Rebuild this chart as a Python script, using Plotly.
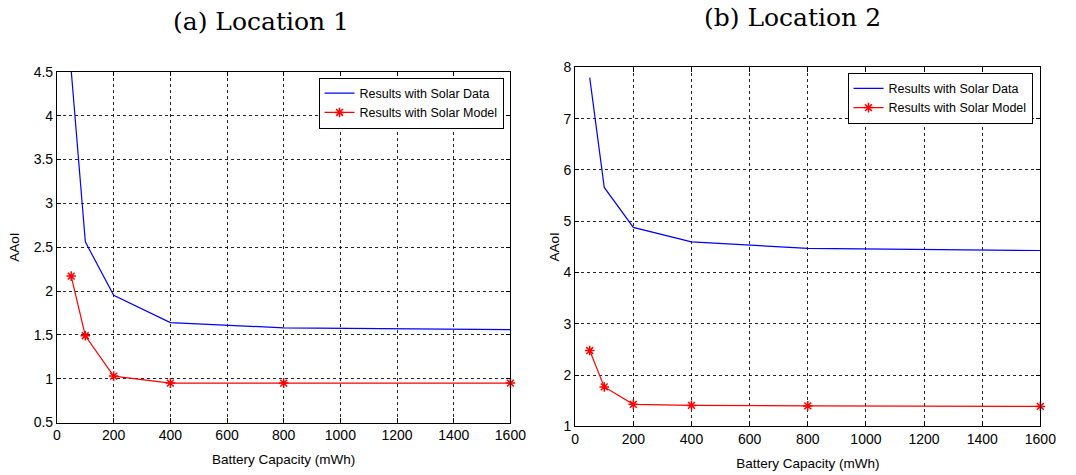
import plotly.graph_objects as go

capacity = [50, 100, 200, 400, 800, 1600]
loc1_solar_data = [4.52, 2.56, 1.95, 1.64, 1.58, 1.56]
loc1_solar_model = [2.17, 1.49, 1.03, 0.95, 0.95, 0.95]
loc2_solar_data = [7.8, 5.66, 4.88, 4.6, 4.47, 4.43]
loc2_solar_model = [2.48, 1.77, 1.43, 1.41, 1.40, 1.39]

W, H = 1076, 475
sans = "Liberation Sans, Arial, sans-serif"
serif = "DejaVu Serif, Liberation Serif, serif"

fig = go.Figure()

def add_pair(xa, ya, data_y, model_y, legend):
    fig.add_trace(go.Scatter(x=capacity, y=data_y, mode="lines", name="Results with Solar Data",
                             line=dict(color="#0000ff", width=1.2), xaxis=xa, yaxis=ya, legend=legend))
    fig.add_trace(go.Scatter(x=capacity, y=model_y, mode="lines+markers", name="Results with Solar Model",
                             line=dict(color="#ff0000", width=1.2),
                             marker=dict(symbol="asterisk", size=8, color="#ff0000",
                                         line=dict(color="#ff0000", width=1.5)),
                             xaxis=xa, yaxis=ya, legend=legend, cliponaxis=False))

add_pair("x", "y", loc1_solar_data, loc1_solar_model, "legend")
add_pair("x2", "y2", loc2_solar_data, loc2_solar_model, "legend2")

def px_x(p):
    return p / W

def px_y(p):
    return (H - p) / H

axis_common = dict(showline=True, linecolor="black", linewidth=1.2, mirror="ticks", ticks="inside",
                   ticklen=4, tickcolor="black", showgrid=True, gridcolor="rgba(0,0,0,0.85)",
                   gridwidth=1, griddash="dot", zeroline=False,
                   tickfont=dict(family=sans, size=14, color="black"))

title_font = dict(family=sans, size=13.5, color="black")
legend_font = dict(family=sans, size=12.5, color="black")

fig.update_layout(
    width=W, height=H, margin=dict(l=0, r=0, t=0, b=0),
    paper_bgcolor="white", plot_bgcolor="white",
    xaxis=dict(domain=[px_x(54), px_x(516)], range=[0, 1600], dtick=200, anchor="y",
               title=dict(text="Battery Capacity (mWh)", font=title_font, standoff=12),
               **axis_common),
    yaxis=dict(domain=[px_y(429), px_y(66)], range=[0.5, 4.5], dtick=0.5, anchor="x",
               title=dict(text="AAoI", font=title_font, standoff=10),
               **axis_common),
    xaxis2=dict(domain=[px_x(582), px_x(1056)], range=[0, 1600], dtick=200, anchor="y2",
                title=dict(text="Battery Capacity (mWh)", font=title_font, standoff=12),
                **axis_common),
    yaxis2=dict(domain=[px_y(433), px_y(61.5)], range=[1, 8], dtick=1, anchor="x2",
                title=dict(text="AAoI", font=title_font, standoff=0),
                **axis_common),
    legend=dict(x=px_x(509), y=px_y(72), xanchor="right", yanchor="top", bgcolor="white",
                bordercolor="black", borderwidth=1, font=legend_font,
                tracegroupgap=0, itemwidth=30),
    legend2=dict(x=px_x(1048), y=px_y(67), xanchor="right", yanchor="top", bgcolor="white",
                 bordercolor="black", borderwidth=1, font=legend_font,
                 tracegroupgap=0, itemwidth=30),
    annotations=[
        dict(text="(a) Location 1", x=px_x(262), y=px_y(14), xref="paper", yref="paper",
             xanchor="center", yanchor="middle",
             showarrow=False, font=dict(family=serif, size=25, color="black")),
        dict(text="(b) Location 2", x=px_x(803), y=px_y(10), xref="paper", yref="paper",
             xanchor="center", yanchor="middle",
             showarrow=False, font=dict(family=serif, size=25, color="black")),
    ],
)

fig.write_html("out.html")
